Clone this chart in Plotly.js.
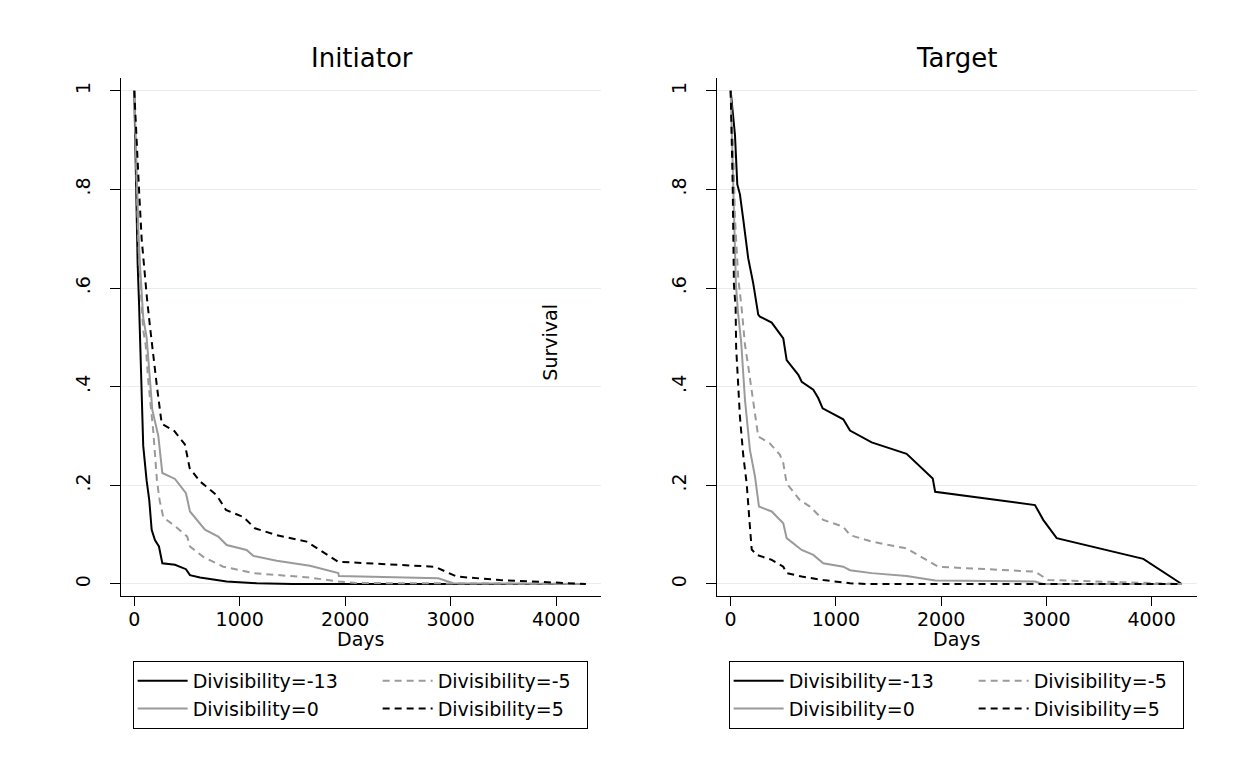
<!DOCTYPE html>
<html>
<head>
<meta charset="utf-8">
<script src="https://cdn.plot.ly/plotly-3.0.1.min.js"></script>
<style>html,body{margin:0;padding:0;background:#fff;}#chart{width:1235px;height:768px;}</style>
</head>
<body>
<div id="chart"></div>
<script>
// ---- Data (days, survival) ----
// Panel: Initiator
const initDivM13Days = [0, 10, 20, 32, 45, 54, 70, 85, 117, 142, 165, 196, 234, 266, 386, 490, 528, 623, 876, 1160, 1500, 4280];
const initDivM13Surv = [1, 0.88, 0.77, 0.65, 0.57, 0.51, 0.38, 0.28, 0.21, 0.17, 0.11, 0.089, 0.076, 0.042, 0.039, 0.030, 0.018, 0.013, 0.005, 0.0015, 0, 0];

const initDivM5Days = [0, 15, 35, 60, 85, 108, 133, 180, 215, 240, 275, 395, 502, 528, 654, 844, 1128, 1665, 1934, 2100, 4280];
const initDivM5Surv = [1, 0.85, 0.71, 0.60, 0.515, 0.485, 0.41, 0.31, 0.21, 0.17, 0.135, 0.116, 0.096, 0.076, 0.055, 0.035, 0.022, 0.013, 0.005, 0.002, 0];

const initDiv0Days = [0, 20, 40, 57, 85, 117, 140, 171, 228, 266, 386, 490, 528, 670, 796, 876, 1065, 1128, 1350, 1665, 1934, 1940, 2881, 3024, 4280];
const initDiv0Surv = [1, 0.83, 0.71, 0.637, 0.54, 0.50, 0.44, 0.353, 0.30, 0.225, 0.213, 0.184, 0.147, 0.11, 0.096, 0.079, 0.069, 0.057, 0.047, 0.037, 0.022, 0.016, 0.0115, 0.0015, 0];

const initDiv5Days = [0, 20, 45, 70, 95, 120, 149, 180, 215, 260, 380, 480, 525, 623, 781, 869, 1033, 1144, 1350, 1634, 1934, 2850, 3056, 3466, 4280];
const initDiv5Surv = [1, 0.90, 0.80, 0.70, 0.637, 0.58, 0.522, 0.46, 0.40, 0.325, 0.31, 0.283, 0.235, 0.208, 0.18, 0.15, 0.136, 0.113, 0.099, 0.086, 0.045, 0.035, 0.015, 0.008, 0];

// Panel: Target
const targDivM13Days = [0, 20, 41, 63, 88, 119, 167, 214, 237, 262, 278, 373, 390, 451, 500, 532, 643, 675, 785, 832, 874, 1070, 1134, 1340, 1672, 1920, 1943, 2892, 2970, 3098, 3921, 4286];
const targDivM13Surv = [1, 0.96, 0.91, 0.81, 0.79, 0.74, 0.66, 0.61, 0.58, 0.546, 0.542, 0.532, 0.53, 0.512, 0.498, 0.454, 0.424, 0.410, 0.394, 0.377, 0.356, 0.334, 0.311, 0.287, 0.264, 0.214, 0.187, 0.160, 0.130, 0.093, 0.051, 0];

const targDivM5Days = [0, 25, 41, 72, 104, 136, 167, 215, 262, 373, 468, 500, 532, 658, 753, 880, 1070, 1134, 1340, 1672, 1972, 2892, 3017, 4286];
const targDivM5Surv = [1, 0.877, 0.742, 0.62, 0.56, 0.485, 0.441, 0.373, 0.299, 0.285, 0.262, 0.245, 0.204, 0.170, 0.157, 0.130, 0.116, 0.099, 0.086, 0.072, 0.035, 0.025, 0.008, 0];

const targDiv0Days = [0, 15, 31, 50, 70, 100, 136, 183, 231, 269, 390, 500, 532, 675, 785, 880, 1070, 1134, 1340, 1672, 1943, 2892, 2970, 4286];
const targDiv0Surv = [1, 0.87, 0.742, 0.607, 0.55, 0.49, 0.373, 0.272, 0.218, 0.157, 0.147, 0.123, 0.093, 0.069, 0.059, 0.042, 0.035, 0.028, 0.022, 0.016, 0.007, 0.005, 0, 0];

const targDiv5Days = [0, 19, 31, 47, 52, 88, 120, 152, 183, 200, 247, 390, 500, 532, 675, 880, 1134, 1300, 4286];
const targDiv5Surv = [1, 0.81, 0.607, 0.56, 0.48, 0.339, 0.26, 0.204, 0.116, 0.07, 0.059, 0.049, 0.035, 0.022, 0.015, 0.008, 0.0015, 0, 0];

const seriesNames = ["Divisibility=-13", "Divisibility=-5", "Divisibility=0", "Divisibility=5"];
const xTickVals = [0, 1000, 2000, 3000, 4000];
const xTickText = ["0", "1000", "2000", "3000", "4000"];
const yTickVals = [0, 0.2, 0.4, 0.6, 0.8, 1];
const yTickText = ["0", ".2", ".4", ".6", ".8", "1"];
const panelTitles = ["Initiator", "Target"];
const xTitle = "Days";
const yTitle = "Survival";

// ---- Styles ----
const FONT = "DejaVu Sans";
const GRAY = "#9a9a9a";
const ITEMW = 50;
const styles = [
  {color: "#000000", dash: "solid", group: "a", lw: 180},
  {color: GRAY, dash: "7px,5px", group: "b", lw: 144},
  {color: GRAY, dash: "solid", group: "a", lw: 180},
  {color: "#000000", dash: "7px,5px", group: "b", lw: 144}
];

function mk(days, surv, i, xa, ya, leg) {
  const s = styles[i];
  return {
    x: days, y: surv, type: "scatter", mode: "lines",
    name: seriesNames[i], xaxis: xa, yaxis: ya, legend: leg,
    legendgroup: leg + s.group, legendwidth: s.lw,
    line: {color: s.color, width: 2, dash: s.dash},
    hoverinfo: "skip"
  };
}

const traces = [
  mk(initDivM13Days, initDivM13Surv, 0, "x", "y", "legend"),
  mk(initDivM5Days, initDivM5Surv, 1, "x", "y", "legend"),
  mk(initDiv0Days, initDiv0Surv, 2, "x", "y", "legend"),
  mk(initDiv5Days, initDiv5Surv, 3, "x", "y", "legend"),
  mk(targDivM13Days, targDivM13Surv, 0, "x2", "y2", "legend2"),
  mk(targDivM5Days, targDivM5Surv, 1, "x2", "y2", "legend2"),
  mk(targDiv0Days, targDiv0Surv, 2, "x2", "y2", "legend2"),
  mk(targDiv5Days, targDiv5Surv, 3, "x2", "y2", "legend2")
];

const tickFont = {family: FONT, size: 19, color: "#000"};

function xax(domain, range, anchor) {
  return {
    domain: domain, range: range, anchor: anchor,
    tickmode: "array", tickvals: xTickVals, ticktext: xTickText,
    ticks: "outside", ticklen: 9, tickwidth: 1, tickcolor: "#000",
    showline: true, linecolor: "#000", linewidth: 1,
    showgrid: false, zeroline: false, tickfont: tickFont, ticklabelstandoff: -3
  };
}
function yax(anchor) {
  return {
    domain: [0.224, 0.8984], range: [-0.0243, 1.0258], anchor: anchor,
    tickmode: "array", tickvals: yTickVals, ticktext: yTickText, tickangle: -90,
    ticks: "outside", ticklen: 10, tickwidth: 1, tickcolor: "#000",
    showline: true, linecolor: "#000", linewidth: 1,
    showgrid: true, gridcolor: "#e6eef0", gridwidth: 1,
    zeroline: false, tickfont: tickFont, ticklabelstandoff: 12
  };
}

const legBase = {
  orientation: "h", traceorder: "grouped", yanchor: "top", xanchor: "left",
  bordercolor: "#000", borderwidth: 1, bgcolor: "#fff", itemwidth: ITEMW,
  font: {family: FONT, size: 19, color: "#000"}, tracegroupgap: 0
};

const titleFont = {family: FONT, size: 26, color: "#000"};
const labFont = {family: FONT, size: 19, color: "#000"};

const layout = {
  width: 1235, height: 768,
  margin: {l: 0, r: 0, t: 0, b: 0},
  paper_bgcolor: "#fff", plot_bgcolor: "#fff",
  font: {family: FONT, color: "#000"},
  xaxis: xax([0.0977, 0.4866], [-129, 4424], "y"),
  yaxis: yax("x"),
  xaxis2: xax([0.5803, 0.9692], [-133, 4431], "y2"),
  yaxis2: yax("x2"),
  legend: Object.assign({}, legBase, {x: 0.1074, y: 0.1393}),
  legend2: Object.assign({}, legBase, {x: 0.590, y: 0.1393}),
  annotations: [
    {text: panelTitles[0], xref: "paper", yref: "paper", x: 0.2935, y: 0.9245, xanchor: "center", yanchor: "middle", showarrow: false, font: titleFont},
    {text: panelTitles[1], xref: "paper", yref: "paper", x: 0.7747, y: 0.9245, xanchor: "center", yanchor: "middle", showarrow: false, font: titleFont},
    {text: xTitle, xref: "paper", yref: "paper", x: 0.2922, y: 0.168, xanchor: "center", yanchor: "middle", showarrow: false, font: labFont},
    {text: xTitle, xref: "paper", yref: "paper", x: 0.7748, y: 0.168, xanchor: "center", yanchor: "middle", showarrow: false, font: labFont},
    {text: yTitle, xref: "paper", yref: "paper", x: 0.4453, y: 0.5551, xanchor: "center", yanchor: "middle", textangle: -90, showarrow: false, font: labFont}
  ]
};

Plotly.newPlot("chart", traces, layout, {staticPlot: true, displayModeBar: false});
</script>
</body>
</html>
